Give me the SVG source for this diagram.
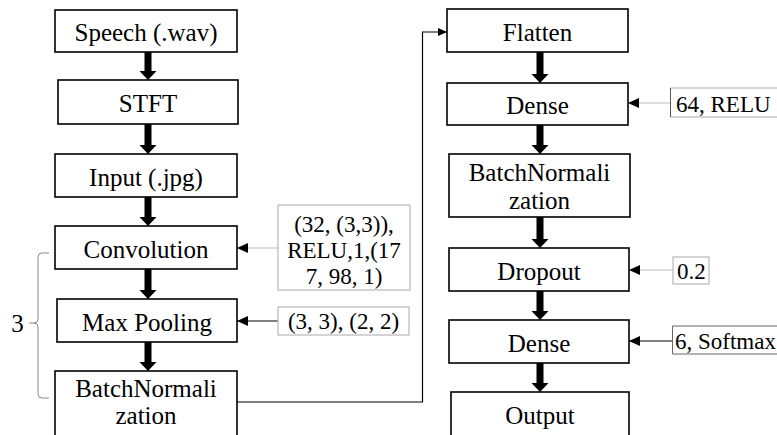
<svg xmlns="http://www.w3.org/2000/svg" width="777" height="435" viewBox="0 0 777 435">
<defs>
<style>
.box{fill:#fff;stroke:#000;stroke-width:1.6}
.pbox{fill:#fff;stroke:#aaa;stroke-width:1}
.t{font-size:25px;fill:#000;text-anchor:middle}
.p{font-size:23px;fill:#000}
.pc{text-anchor:middle}
.flow{fill:#000;stroke:none}
.cl{fill:none;stroke:#bbb;stroke-width:1.2}
.cd{fill:none;stroke:#000;stroke-width:1.2}
</style>
<marker id="ah" markerWidth="11" markerHeight="10" refX="11" refY="5" orient="auto" markerUnits="userSpaceOnUse">
<path d="M0,0 L11,5 L0,10 Z" fill="#000"/>
</marker>
<marker id="ahs" markerWidth="9" markerHeight="8" refX="9" refY="4" orient="auto" markerUnits="userSpaceOnUse">
<path d="M0,0 L9,4 L0,8 Z" fill="#000"/>
</marker>
</defs>

<g id="connectors">
<polygon class="flow" points="144.5,52 151.5,52 151.5,71 156.5,71 148,80 139.5,71 144.5,71"/>
<polygon class="flow" points="144.5,124 151.5,124 151.5,145 156.5,145 148,154 139.5,145 144.5,145"/>
<polygon class="flow" points="144.5,197 151.5,197 151.5,217 156.5,217 148,226 139.5,217 144.5,217"/>
<polygon class="flow" points="144.5,269 151.5,269 151.5,290 156.5,290 148,299 139.5,290 144.5,290"/>
<polygon class="flow" points="144.5,342 151.5,342 151.5,362 156.5,362 148,371 139.5,362 144.5,362"/>
<polygon class="flow" points="536.5,52 543.5,52 543.5,74 548.5,74 540,83 531.5,74 536.5,74"/>
<polygon class="flow" points="536.5,125 543.5,125 543.5,145 548.5,145 540,154 531.5,145 536.5,145"/>
<polygon class="flow" points="536.5,217 543.5,217 543.5,239 548.5,239 540,248 531.5,239 536.5,239"/>
<polygon class="flow" points="536.5,291 543.5,291 543.5,311 548.5,311 540,320 531.5,311 536.5,311"/>
<polygon class="flow" points="536.5,363 543.5,363 543.5,383 548.5,383 540,392 531.5,383 536.5,383"/>
<path class="cl" d="M278,248 H237" marker-end="url(#ah)"/>
<path class="cd" d="M278,321 H237" marker-end="url(#ah)"/>
<path class="cl" d="M670,103 H628" marker-end="url(#ah)"/>
<path class="cl" d="M673,270 H629" marker-end="url(#ah)"/>
<path class="cd" d="M672,341 H629" marker-end="url(#ah)"/>
<path class="cd" d="M237,402 H422.5 V32 H447" marker-end="url(#ahs)"/>
<path fill="none" stroke="#888" stroke-width="1" d="M49,253 H42 Q38,253 38,257 V319 Q38,323 34,323 Q38,323 38,327 V394 Q38,398 42,398 H49 M29,323 H34"/>
</g>

<g font-family="'Liberation Serif', 'Times New Roman', 'DejaVu Serif', serif">
<g id="speech"><rect class="box" x="55" y="10" width="182" height="42"/><text class="t" x="146" y="41">Speech (.wav)</text></g>
<g id="stft"><rect class="box" x="58" y="80" width="180" height="44"/><text class="t" x="148" y="112">STFT</text></g>
<g id="input"><rect class="box" x="55" y="154" width="182" height="43"/><text class="t" x="146" y="186">Input (.jpg)</text></g>
<g id="convolution"><rect class="box" x="55" y="226" width="182" height="43"/><text class="t" x="146" y="258">Convolution</text></g>
<g id="maxpool"><rect class="box" x="57" y="299" width="180" height="43"/><text class="t" x="147" y="331">Max Pooling</text></g>
<g id="batchnorm1"><rect class="box" x="55" y="371" width="182" height="70"/><text class="t" x="146" y="397">BatchNormali</text><text class="t" x="146" y="424">zation</text></g>

<g id="repeat"><text class="t" x="17.5" y="332">3</text></g>

<g id="conv-params"><rect class="pbox" x="278" y="205" width="132" height="85"/><text class="p pc" x="344" y="232">(32, (3,3)),</text><text class="p pc" x="344" y="258">RELU,1,(17</text><text class="p pc" x="344" y="284">7, 98, 1)</text></g>
<g id="pool-params"><rect class="pbox" x="278" y="307" width="131" height="28"/><text class="p pc" x="343.5" y="329">(3, 3), (2, 2)</text></g>

<g id="flatten"><rect class="box" x="447" y="9" width="181" height="43"/><text class="t" x="537.5" y="41">Flatten</text></g>
<g id="dense1"><rect class="box" x="447" y="83" width="181" height="42"/><text class="t" x="537.5" y="114">Dense</text></g>
<g id="batchnorm2"><rect class="box" x="449" y="154" width="181" height="63"/><text class="t" x="539.5" y="181">BatchNormali</text><text class="t" x="539.5" y="209">zation</text></g>
<g id="dropout"><rect class="box" x="449" y="248" width="180" height="43"/><text class="t" x="539" y="280">Dropout</text></g>
<g id="dense2"><rect class="box" x="449" y="320" width="180" height="43"/><text class="t" x="539" y="352">Dense</text></g>
<g id="output"><rect class="box" x="451" y="392" width="178" height="50"/><text class="t" x="540" y="424">Output</text></g>

<g id="dense1-params"><path d="M778,88 H670.5 V117 H778" fill="#fff" stroke="#aaa" stroke-width="1"/><path d="M670.5,88 V117" stroke="#555" stroke-width="1"/><text class="p" x="676" y="112">64, RELU</text></g>
<g id="dropout-params"><rect class="pbox" x="673" y="257" width="36" height="27"/><text class="p" x="677" y="279">0.2</text></g>
<g id="dense2-params"><path d="M778,326 H672.5 V354 H778" fill="#fff" stroke="#666" stroke-width="1"/><text class="p" x="675" y="349">6, Softmax</text></g>
</g>
</svg>
